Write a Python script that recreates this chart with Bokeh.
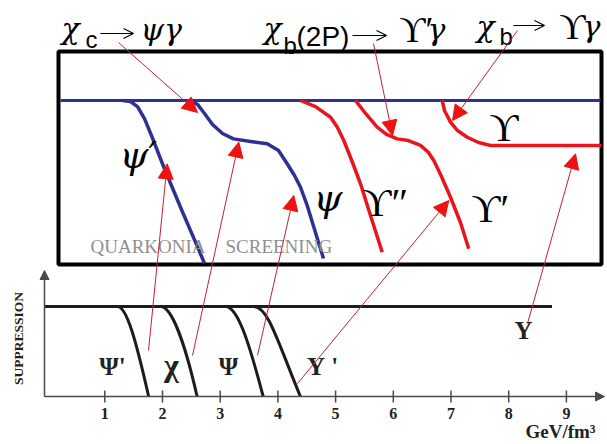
from bokeh.plotting import figure
from bokeh.models import Range1d, Arrow, NormalHead, OpenHead, ColumnDataSource
from bokeh.core.properties import value
from bokeh.embed import file_html
from bokeh.resources import INLINE

# ---------------- lower chart: suppression vs energy density (GeV/fm^3)
tick_values = [1, 2, 3, 4, 5, 6, 7, 8, 9]
tick_labels = ["1", "2", "3", "4", "5", "6", "7", "8", "9"]
low_states = ["Ψ'", "χ", "Ψ", "Υ '", "Υ"]
onset = [1.22, 1.97, 3.09, 3.58]          # where suppression starts
melt = [1.76, 2.60, 3.745, 4.39]          # where suppression reaches zero
ctrl_a = [1.38, 2.15, 3.30, 3.83]
ctrl_b = [1.54, 2.38, 3.49, 3.99]
plateau_end = 8.75

# ---------------- upper panel: survival (1 = full, 0 = screened)
psi2_x = [1.307, 1.445, 1.567, 1.688, 1.821, 2.023, 2.312, 2.659, 2.728]
psi2_u = [1.0, 0.994, 0.963, 0.890, 0.776, 0.593, 0.349, 0.065, 0.006]
psi_x = [2.485, 2.607, 2.728, 2.867, 3.040, 3.231, 3.525, 3.815, 4.010, 4.161,
         4.288, 4.392, 4.513, 4.622, 4.704, 4.790]
psi_u = [1.0, 0.976, 0.921, 0.854, 0.799, 0.766, 0.750, 0.736, 0.695, 0.614,
         0.543, 0.471, 0.354, 0.228, 0.134, 0.037]
ups3_x = [4.392, 4.652, 4.912, 5.033, 5.142, 5.293, 5.432, 5.605, 5.808]
ups3_u = [1.0, 0.963, 0.898, 0.835, 0.756, 0.622, 0.492, 0.299, 0.075]
ups2_x = [5.345, 5.519, 5.721, 5.882, 6.068, 6.263, 6.471, 6.610, 6.702, 6.835,
          6.991, 7.164, 7.308]
ups2_u = [1.0, 0.921, 0.837, 0.793, 0.766, 0.756, 0.726, 0.683, 0.634, 0.537,
          0.410, 0.256, 0.096]
ups1_x = [6.847, 6.887, 6.991, 7.113, 7.281, 7.477, 7.685, 9.608]
ups1_u = [1.0, 0.939, 0.868, 0.817, 0.776, 0.744, 0.726, 0.726]
full_x = [0.232, 9.591]
full_u = [1.0, 1.0]


# ---------------- layout helpers (reference pixel -> data)
def X(px):
    return (px - 46.6) / 57.7


def Y(py):
    return (396.0 - py) / 90.0


def U(u):
    # upper panel survival -> vertical data coordinate
    return Y(264) + (Y(100) - Y(264)) * u


def Ulist(us):
    return [U(u) for u in us]


W, H = 607, 444
p = figure(width=W, height=H, output_backend="svg", toolbar_location=None,
           x_range=Range1d(X(0), X(W)), y_range=Range1d(Y(H), Y(0)),
           min_border=0, background_fill_color="white", border_fill_color="white")
p.axis.visible = False
p.grid.visible = False
p.outline_line_color = None

SERIF = value("Liberation Serif")
GREEK = value("DejaVu Serif")
SANS = value("Liberation Sans")

# ---------------- upper box
p.quad(left=[X(58)], right=[X(601)], top=[Y(51)], bottom=[Y(264)],
       fill_color="white", line_color="black", line_width=4)

BLUE = "#2f3190"
RED = "#e8161c"
p.line(full_x, Ulist(full_u), line_color=BLUE, line_width=3)
p.line(psi2_x, Ulist(psi2_u), line_color=BLUE, line_width=3.5, line_join="round")
p.line(psi_x, Ulist(psi_u), line_color=BLUE, line_width=3.5, line_join="round")
p.line(ups3_x, Ulist(ups3_u), line_color=RED, line_width=3.5, line_join="round")
p.line(ups2_x, Ulist(ups2_u), line_color=RED, line_width=3.5, line_join="round")
p.line(ups1_x, Ulist(ups1_u), line_color=RED, line_width=3.5, line_join="round")

p.text(x=[X(90), X(225)], y=[Y(246), Y(246)], text=["QUARKONIA", "SCREENING"],
       text_font=SERIF, text_font_size="19px", text_color="#8f8f8f",
       text_align="left", text_baseline="middle")

# in-box labels
p.text(x=[X(119), X(313)], y=[Y(155), Y(198)], text=["ψ′", "ψ"], text_font=GREEK,
       text_font_size="37px", text_font_style="italic", text_color="black",
       text_align="left", text_baseline="middle")
p.text(x=[X(362), X(471), X(489)], y=[Y(202), Y(208), Y(127)],
       text=["ϒ″", "ϒ′", "ϒ"], text_font=SERIF, text_font_size="40px",
       text_color="black", text_align="left", text_baseline="middle")

# top labels
p.text(x=[X(61), X(140), X(263), X(427), X(476), X(582)],
       y=[Y(28), Y(29), Y(28), Y(29), Y(26), Y(26)],
       text=["χ", "ψγ", "χ", "γ", "χ", "γ"], text_font=GREEK, text_font_size="30px",
       text_font_style="italic", text_color="black", text_align="left",
       text_baseline="middle")
p.text(x=[X(399), X(559)], y=[Y(29), Y(26)], text=["ϒ′", "ϒ"], text_font=SERIF,
       text_font_size="36px", text_color="black", text_align="left",
       text_baseline="middle")
p.text(x=[X(85), X(283), X(499)], y=[Y(39), Y(45), Y(36)], text=["c", "b", "b"],
       text_font=SANS, text_font_size="24px", text_color="black",
       text_align="left", text_baseline="middle")
p.text(x=[X(296)], y=[Y(36)], text=["(2P)"], text_font=SANS, text_font_size="28px",
       text_color="black", text_align="left", text_baseline="middle")
maps_to = ColumnDataSource(dict(x0=[X(100), X(352), X(513)], x1=[X(133), X(386), X(544)],
                                y0=[Y(33), Y(35), Y(25)], y1=[Y(33), Y(35), Y(25)]))
p.add_layout(Arrow(end=OpenHead(size=10, line_color="black", line_width=1.2),
                   x_start="x0", y_start="y0", x_end="x1", y_end="y1",
                   source=maps_to, line_color="black", line_width=1.2))

# ---------------- lower chart
AX = "#4a4a4a"
p.add_layout(Arrow(end=NormalHead(size=9, fill_color=AX, line_color=AX),
                   x_start=X(44), y_start=0, x_end=X(604), y_end=0,
                   line_color=AX, line_width=1.5))
p.add_layout(Arrow(end=NormalHead(size=9, fill_color=AX, line_color=AX),
                   x_start=X(44), y_start=0, x_end=X(44), y_end=Y(270),
                   line_color=AX, line_width=1.5))
p.segment(x0=tick_values, y0=[Y(390)] * len(tick_values), x1=tick_values,
          y1=[Y(402)] * len(tick_values), line_color=AX, line_width=1.5)
p.text(x=tick_values, y=[Y(413)] * len(tick_values), text=tick_labels,
       text_font=SERIF, text_font_style="bold", text_font_size="16px",
       text_color="#222222", text_align="center", text_baseline="middle")

DARK = "#1c1c1c"
p.line([X(44), plateau_end], [1, 1], line_color=DARK, line_width=3)
n = len(onset)
p.bezier(x0=onset, y0=[1] * n, x1=melt, y1=[0] * n, cx0=ctrl_a, cy0=[1] * n,
         cx1=ctrl_b, cy1=[0.62] * n, line_color=DARK, line_width=3)

p.text(x=[X(112), X(228), X(322), X(523)],
       y=[Y(366), Y(366), Y(366), Y(330)],
       text=[low_states[0], low_states[2], low_states[3], low_states[4]],
       text_font=SERIF, text_font_style="bold", text_font_size="25px",
       text_color="#222222", text_align="center", text_baseline="middle")
p.text(x=[X(171)], y=[Y(364)], text=[low_states[1]],
       text_font=SERIF, text_font_style="bold", text_font_size="32px",
       text_color="#222222", text_align="center", text_baseline="middle")

p.text(x=[X(18)], y=[Y(338)], text=["SUPPRESSION"], angle=1.5708,
       text_font=SERIF, text_font_style="bold", text_font_size="13.5px",
       text_color="#222222", text_align="center", text_baseline="middle")
p.text(x=[X(525)], y=[Y(431)], text=["GeV/fm³"], text_font=SERIF,
       text_font_style="bold", text_font_size="19px", text_color="#222222",
       text_align="left", text_baseline="middle")

# ---------------- red pointer arrows
arrows = ColumnDataSource(dict(
    x0=[X(118), X(373), X(517), X(148), X(192), X(257), X(297), X(527)],
    y0=[Y(42), Y(43), Y(30), Y(350), Y(355), Y(355), Y(383), Y(323)],
    x1=[X(197), X(392), X(452), X(166.7), X(238.3), X(293.3), X(448.3), X(575)],
    y1=[Y(112), Y(135), Y(120), Y(163.3), Y(141.7), Y(195), Y(200), Y(153.3)],
))
p.add_layout(Arrow(end=NormalHead(size=15, fill_color="#f01212", line_color="#f01212"),
                   x_start="x0", y_start="y0", x_end="x1", y_end="y1",
                   source=arrows, line_color="#c42032", line_width=1))

open("out.html", "w").write(file_html(p, INLINE))
